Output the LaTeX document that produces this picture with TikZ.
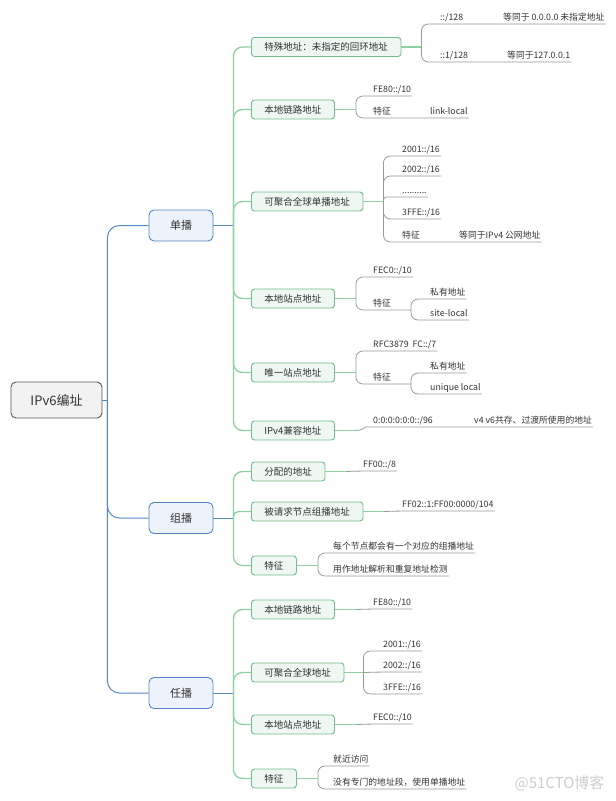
\documentclass[tikz,border=0pt]{standalone}
\usepackage{fontspec}
\setmainfont{Noto Sans CJK SC}
\usepackage{xcolor}
\definecolor{txt}{HTML}{333333}
\definecolor{rootfill}{HTML}{F2F2F2}
\definecolor{rootline}{HTML}{555555}
\definecolor{blueline}{HTML}{5585C4}
\definecolor{bluefill}{HTML}{EDF3FB}
\definecolor{greenline}{HTML}{90D0A0}
\definecolor{greenbox}{HTML}{72BC89}
\definecolor{greenfill}{HTML}{EEF7F1}
\definecolor{grayline}{HTML}{9A9A9A}
\definecolor{wm}{HTML}{CDCDCD}
\tikzset{
	root node/.style={rectangle,rounded corners=5pt,draw=rootline,fill=rootfill,line width=0.9pt,minimum width=91pt,minimum height=36pt,font=\fontsize{13}{15}\selectfont,text=txt},
	cast node/.style={rectangle,rounded corners=5pt,draw=blueline,fill=bluefill,line width=0.9pt,minimum width=64pt,minimum height=31pt,font=\fontsize{11}{13}\selectfont,text=txt},
	addr node/.style={rectangle,rounded corners=3pt,draw=greenbox,fill=greenfill,line width=0.9pt,inner xsep=13pt,minimum height=19pt,font=\fontsize{9.5}{11}\selectfont,text=txt,anchor=west},
	leaf/.style={anchor=south west,inner xsep=1pt,inner ysep=1.5pt,text height=7pt,text depth=1.5pt,font=\fontsize{8.8}{10}\selectfont,text=txt},
	blue link/.style={draw=blueline,line width=1pt,rounded corners=12pt},
	green link/.style={draw=greenline,line width=1.3pt,rounded corners=9pt},
	gray link/.style={draw=grayline,line width=0.8pt,rounded corners=7pt}
}

\begin{document}
\begin{tikzpicture}[x=1pt,y=-1pt]
	\useasboundingbox (0,0) rectangle (616,801);
	% root and the three kinds
	\node [root node] (ipv6) at (56.5,400) {IPv6编址};
	\node [cast node] (uni) at (181,225.5) {单播};
	\node [cast node] (multi) at (181,518) {组播};
	\node [cast node] (any) at (181,693) {任播};
	\coordinate (rk) at ([xshift=5pt]ipv6.east);
	\draw [blue link] (ipv6.east) -- (rk);
	\foreach \c in {uni,multi,any}
		\draw [blue link] (rk) |- (\c.west);

	% second level
	\node [addr node] (u1) at (251,47) {特殊地址：未指定的回环地址};
	\node [addr node] (u2) at (251,109.5) {本地链路地址};
	\node [addr node] (u3) at (251,201.5) {可聚合全球单播地址};
	\node [addr node] (u4) at (251,298.5) {本地站点地址};
	\node [addr node] (u5) at (251,372.5) {唯一站点地址};
	\node [addr node] (u6) at (251,430.5) {IPv4兼容地址};
	\node [addr node] (m1) at (251,471.5) {分配的地址};
	\node [addr node] (m2) at (251,511.5) {被请求节点组播地址};
	\node [addr node] (m3) at (251,565.5) {特征};
	\node [addr node] (a1) at (251,609.5) {本地链路地址};
	\node [addr node] (a2) at (251,672.5) {可聚合全球地址};
	\node [addr node] (a3) at (251,724.5) {本地站点地址};
	\node [addr node] (a4) at (251,778.5) {特征};

	\coordinate (uk) at ([xshift=20pt]uni.east);
	\coordinate (mk) at ([xshift=20pt]multi.east);
	\coordinate (ak) at ([xshift=20pt]any.east);
	\draw [blue link] (uni.east) -- (uk);
	\draw [blue link] (multi.east) -- (mk);
	\draw [blue link] (any.east) -- (ak);
	\foreach \c in {u1,u2,u3,u4,u5,u6}
		\draw [green link] (uk) |- (\c.west);
	\foreach \c in {m1,m3}
		\draw [green link] (mk) |- (\c.west);
	\draw [green link,rounded corners=5pt] (mk) |- (m2.west);
	\foreach \c in {a1,a2,a3,a4}
		\draw [green link] (ak) |- (\c.west);

	% bracket points
	\foreach \c/\d in {u1/20,u2/21,u3/20,u4/21,u5/21,u6/21,m1/20,m2/20,m3/21,a1/21,a2/19,a3/21,a4/21}{
		\coordinate (\c k) at ([xshift=\d pt]\c.east);
		\draw [green link] (\c.east) -- (\c k);
	}

	% leaves
	\node [leaf] (u1a) at (439,24) {::/128};
	\node [leaf] (u1b) at (439,62) {::1/128};
	\node [leaf] (u1c) at (502,24) {等同于 0.0.0.0 未指定地址};
	\node [leaf] (u1d) at (506,62) {等同于127.0.0.1};
	\draw [gray link] (u1k) |- (u1a.south west) -- (u1a.south east) -- (u1c.south west) -- (u1c.south east);
	\draw [gray link] (u1k) |- (u1b.south west) -- (u1b.south east) -- (u1d.south west) -- (u1d.south east);

	\node [leaf] (u2a) at (372,96) {FE80::/10};
	\node [leaf] (u2b) at (372,118) {特征};
	\node [leaf] (u2c) at (429,118) {link-local};
	\draw [gray link] (u2k) |- (u2a.south west) -- (u2a.south east);
	\draw [gray link] (u2k) |- (u2b.south west) -- (u2b.south east) -- (u2c.south west) -- (u2c.south east);

	\node [leaf] (u3a) at (401,156) {2001::/16};
	\node [leaf] (u3b) at (401,176) {2002::/16};
	\node [leaf] (u3c) at (401,197) {..........};
	\node [leaf] (u3d) at (401,219) {3FFE::/16};
	\node [leaf] (u3e) at (401,242) {特征};
	\node [leaf] (u3f) at (458,242) {等同于IPv4 公网地址};
	\foreach \c in {u3a,u3b,u3d}
		\draw [gray link] (u3k) |- (\c.south west) -- (\c.south east);
	\draw [gray link,rounded corners=3pt] (u3k) |- (u3c.south west) -- (u3c.south east);
	\draw [gray link] (u3k) |- (u3e.south west) -- (u3e.south east) -- (u3f.south west) -- (u3f.south east);

	\node [leaf] (u4a) at (372,277) {FEC0::/10};
	\node [leaf] (u4b) at (372,310) {特征};
	\node [leaf] (u4c) at (429,299) {私有地址};
	\node [leaf] (u4d) at (429,320) {site-local};
	\coordinate (u4q) at ([xshift=19pt]u4b.south east);
	\draw [gray link] (u4k) |- (u4a.south west) -- (u4a.south east);
	\draw [gray link] (u4k) |- (u4b.south west) -- (u4b.south east) -- (u4q);
	\foreach \c in {u4c,u4d}
		\draw [gray link] (u4q) |- (\c.south west) -- (\c.south east);

	\node [leaf] (u5a) at (372,351) {RFC3879\ \ FC::/7};
	\node [leaf] (u5b) at (372,384) {特征};
	\node [leaf] (u5c) at (429,373) {私有地址};
	\node [leaf] (u5d) at (429,394) {unique local};
	\coordinate (u5q) at ([xshift=19pt]u5b.south east);
	\draw [gray link] (u5k) |- (u5a.south west) -- (u5a.south east);
	\draw [gray link] (u5k) |- (u5b.south west) -- (u5b.south east) -- (u5q);
	\foreach \c in {u5c,u5d}
		\draw [gray link] (u5q) |- (\c.south west) -- (\c.south east);

	\node [leaf] (u6a) at (372,427) {0:0:0:0:0:0::/96};
	\node [leaf] (u6b) at (473,427) {v4 v6共存、过渡所使用的地址};
	\draw [gray link] (u6k) to[out=0,in=180] (u6a.south west) -- (u6a.south east) -- (u6b.south west) -- (u6b.south east);

	\node [leaf] (m1a) at (362,471) {FF00::/8};
	\draw [gray link] (m1k) -- (m1a.south west) -- (m1a.south east);
	\node [leaf] (m2a) at (401,511) {FF02::1:FF00:0000/104};
	\draw [gray link] (m2k) -- (m2a.south west) -- (m2a.south east);
	\node [leaf] (m3a) at (332,553) {每个节点都会有一个对应的组播地址};
	\node [leaf] (m3b) at (332,576) {用作地址解析和重复地址检测};
	\foreach \c in {m3a,m3b}
		\draw [gray link] (m3k) |- (\c.south west) -- (\c.south east);

	\node [leaf] (a1a) at (372,609) {FE80::/10};
	\draw [gray link] (a1k) -- (a1a.south west) -- (a1a.south east);
	\node [leaf] (a2a) at (382,651) {2001::/16};
	\node [leaf] (a2b) at (382,672) {2002::/16};
	\node [leaf] (a2c) at (382,694) {3FFE::/16};
	\draw [gray link] (a2k) |- (a2a.south west) -- (a2a.south east);
	\draw [gray link] (a2k) -- (a2b.south west) -- (a2b.south east);
	\draw [gray link] (a2k) |- (a2c.south west) -- (a2c.south east);
	\node [leaf] (a3a) at (372,724) {FEC0::/10};
	\draw [gray link] (a3k) -- (a3a.south west) -- (a3a.south east);
	\node [leaf] (a4a) at (332,766) {就近访问};
	\node [leaf] (a4b) at (332,789) {没有专门的地址段，使用单播地址};
	\foreach \c in {a4a,a4b}
		\draw [gray link] (a4k) |- (\c.south west) -- (\c.south east);

	\node [text=wm,font=\fontsize{15}{17}\selectfont,anchor=east] (mark) at (608,783) {@51CTO博客};
\end{tikzpicture}
\end{document}
